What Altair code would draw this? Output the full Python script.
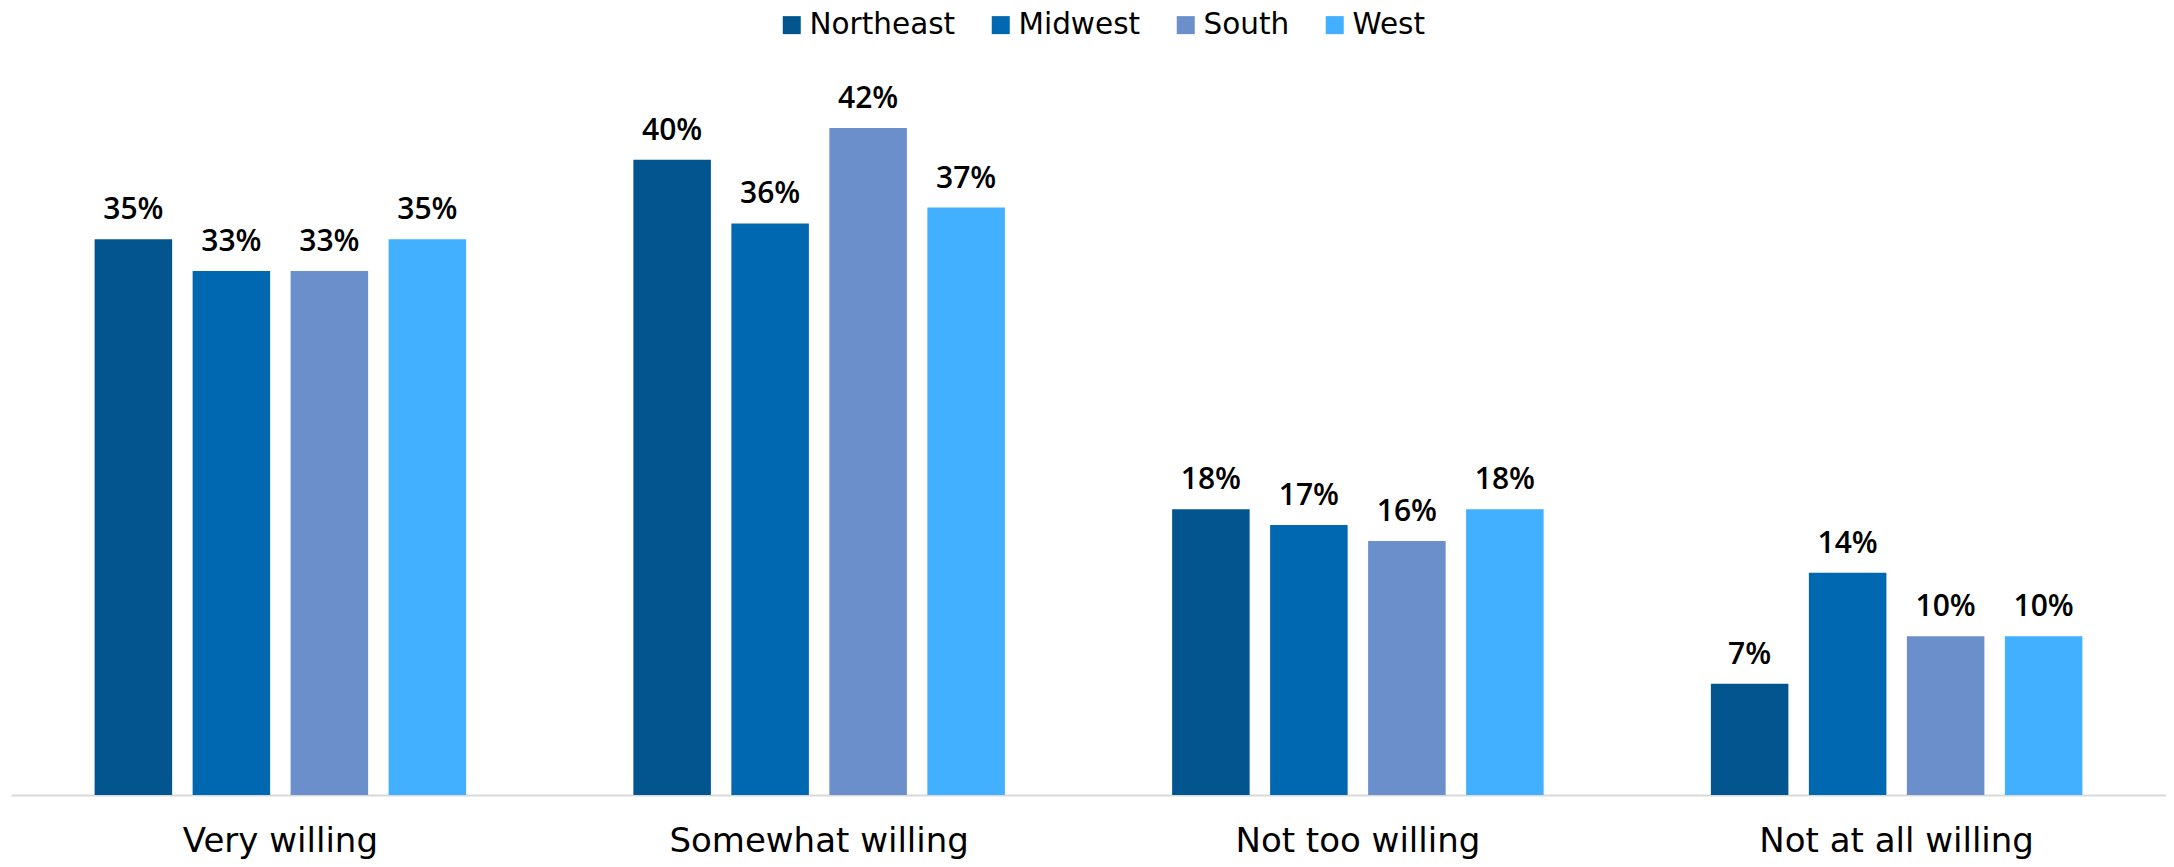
import altair as alt
import pandas as pd

categories = ["Very willing", "Somewhat willing", "Not too willing", "Not at all willing"]
regions = ["Northeast", "Midwest", "South", "West"]
northeast = [35, 40, 18, 7]
midwest = [33, 36, 17, 14]
south = [33, 42, 16, 10]
west = [35, 37, 18, 10]
colors = ["#02558F", "#0067B1", "#6A8FCA", "#42AFFF"]

rows = []
for reg, vals in zip(regions, [northeast, midwest, south, west]):
    for cat, v in zip(categories, vals):
        rows.append({"category": cat, "region": reg, "value": v, "label": f"{v}%"})
df = pd.DataFrame(rows)

x = alt.X("category:N", sort=categories, title=None,
          scale=alt.Scale(paddingInner=0.2724, paddingOuter=0.1362),
          axis=alt.Axis(labelAngle=0, ticks=False, domain=True, domainColor="#d9d9d9",
                        domainWidth=2, labelFont="DejaVu Sans", labelFontSize=34,
                        labelColor="#000000", labelPadding=29, labelLimit=600, grid=False))
xo = alt.XOffset("region:N", sort=regions,
                 scale=alt.Scale(paddingInner=0.209, paddingOuter=0.1045))
y = alt.Y("value:Q", axis=None, scale=alt.Scale(domain=[0, 46.29], nice=False, zero=True))

bars = alt.Chart(df).mark_bar().encode(
    x=x, xOffset=xo, y=y,
    color=alt.Color("region:N", sort=regions,
                    scale=alt.Scale(domain=regions, range=colors),
                    legend=alt.Legend(title=None, orient="none", direction="horizontal",
                                      legendX=766, legendY=-50, columns=4,
                                      symbolType="square", symbolSize=324,
                                      symbolStrokeWidth=0, symbolOpacity=1,
                                      labelFont="DejaVu Sans", labelFontSize=29.5,
                                      labelColor="#000000", labelOffset=3,
                                      columnPadding=30, padding=0, labelLimit=400)),
)

labels = alt.Chart(df).mark_text(
    font="Open Sans", fontSize=30, fontWeight=600, color="#000000",
    baseline="alphabetic", align="center", dy=-20,
).encode(x=x, xOffset=xo, y=y, text="label:N")

chart = (bars + labels).properties(
    width=2155, height=735,
    background="#ffffff",
    autosize=alt.AutoSizeParams(type="none"),
    padding={"left": 3, "top": 52, "right": 0, "bottom": 64},
).configure_view(stroke=None)

chart.save("out.html", embed_options={"renderer": "svg", "actions": False})
